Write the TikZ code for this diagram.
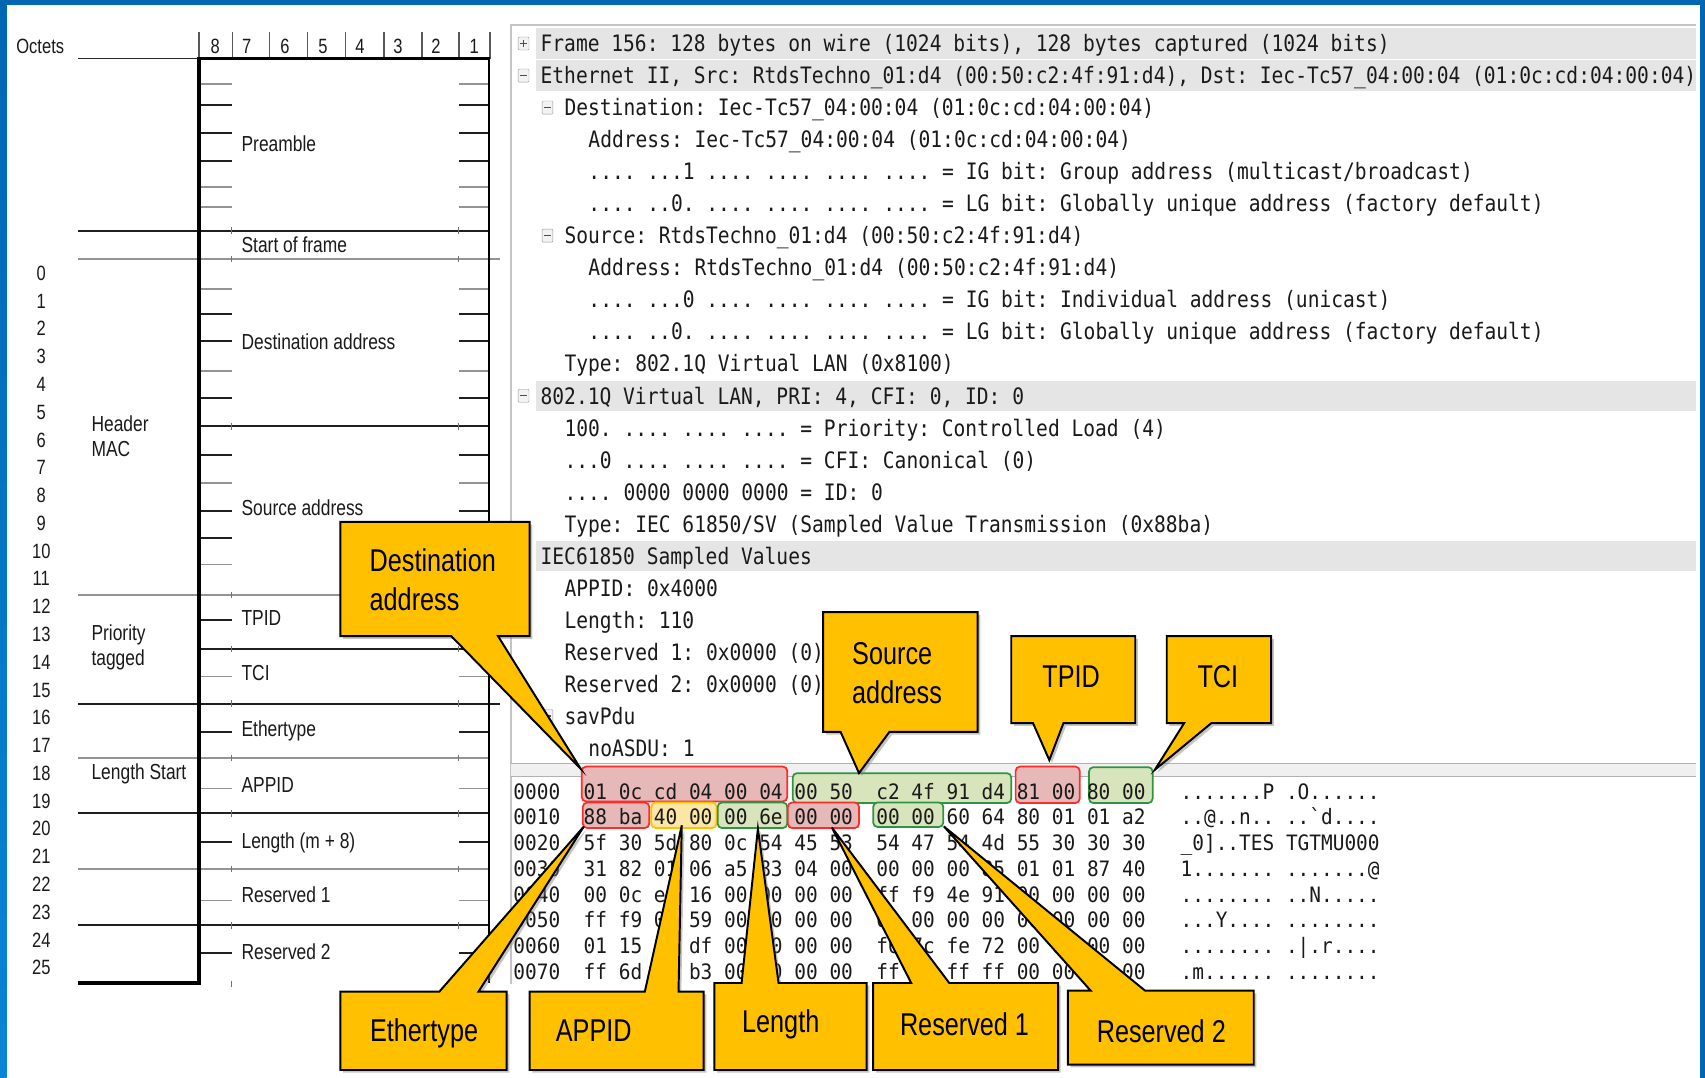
\documentclass[tikz,border=0pt]{standalone}
\usepackage{fontspec}
\setmainfont{Liberation Sans}
\newfontfamily\narf[FakeStretch=0.8]{Liberation Sans}
\newfontfamily\treef[FakeStretch=0.866,Ligatures=TeXOff]{DejaVu Sans Mono}
\newfontfamily\hexf[FakeStretch=0.917,Ligatures=TeXOff]{DejaVu Sans Mono}
\usetikzlibrary{calc}
\definecolor{fblue}{HTML}{0066B3}
\definecolor{fblue2}{HTML}{0A84D6}
\definecolor{cyel}{HTML}{FFC000}
\definecolor{rowg}{HTML}{E5E5E5}
\definecolor{pang}{HTML}{C4C4C4}
\definecolor{hred}{HTML}{FF2B2B}
\definecolor{hredf}{HTML}{E6B8B7}
\definecolor{hgrn}{HTML}{2E9444}
\definecolor{hgrnf}{HTML}{D8E4BC}
\definecolor{horg}{HTML}{FFC000}
\definecolor{horgf}{HTML}{FCE6A4}
\definecolor{txt}{HTML}{1A1A1A}
\frenchspacing
% callout with pointer at bottom: x1 y1 x2 y2 b1 b2 tip
\newcommand\cbot[7]{%
  \fill[cshadow,transform canvas={shift={(2.5,2.5)}}] (#1,#2) -- (#3,#2) -- (#3,#4) -- (#6,#4) -- (#7) -- (#5,#4) -- (#1,#4) -- cycle;
  \draw[callout] (#1,#2) -- (#3,#2) -- (#3,#4) -- (#6,#4) -- (#7) -- (#5,#4) -- (#1,#4) -- cycle;}
% callout with pointer at top
\newcommand\ctop[7]{%
  \fill[cshadow,transform canvas={shift={(2.5,2.5)}}] (#1,#2) -- (#5,#2) -- (#7) -- (#6,#2) -- (#3,#2) -- (#3,#4) -- (#1,#4) -- cycle;
  \draw[callout] (#1,#2) -- (#5,#2) -- (#7) -- (#6,#2) -- (#3,#2) -- (#3,#4) -- (#1,#4) -- cycle;}
\newcommand\trl[4]{\node[treetxt] (#1) at (#2,{47.6+29.45*#3}) {#4};}
\newcommand\hxl[3]{\node[hextxt] (#1) at (472,{735+23.66*#2}) {#3};}
\newcommand\ticon[4]{%
  \node[ticonst] (#1) at (#2,{40+29.45*#3}) {};
  \draw[black!70,line width=1.2pt] ([xshift=-3pt]#1.center) -- ([xshift=3pt]#1.center);
  \ifnum#4=1 \draw[black!70,line width=1.2pt] ([yshift=-3pt]#1.center) -- ([yshift=3pt]#1.center);\fi}
\begin{document}
\begin{tikzpicture}[x=1pt,y=-1pt,
  num/.style={font=\narf\fontsize{19}{22}\selectfont, text=txt, inner sep=0pt, anchor=base},
  tbl/.style={font=\narf\fontsize{20}{24}\selectfont, text=txt, inner sep=0pt, anchor=base west},
  dkl/.style={draw=black!88, line width=1.8pt},
  grl/.style={draw=black!42, line width=1.5pt},
  treetxt/.style={font=\treef\fontsize{20.8}{24}\selectfont, text=txt, inner sep=0pt, anchor=base west},
  hextxt/.style={font=\hexf\fontsize{19.5}{22}\selectfont, text=txt, inner sep=0pt, anchor=base west},
  ticonst/.style={draw=black!40, fill=black!5, minimum width=10pt, minimum height=12pt, inner sep=0pt, rounded corners=1pt},
  hb/.style={rounded corners=4pt, line width=1.6pt},
  callout/.style={fill=cyel, draw=black, line width=1.8pt, line join=miter},
  cshadow/.style={fill=black!50, opacity=0.45},
  ctext/.style={font=\narf\fontsize{29}{36}\selectfont, text=black, align=left, inner sep=0pt}]
\useasboundingbox (0,0) rectangle (1568,991);
\fill[white] (0,0) rectangle (1568,991);
% blue frame
\fill[fblue] (0,0) rectangle (1568,5);
\shade[top color=fblue, bottom color=fblue2] (0,0) rectangle (6,991);
\fill[fblue] (1563,0) rectangle (1568,991);

% ---------------- left octet table ----------------
\node[num] (octets) at (37,49) {Octets};
\foreach \x in {183,213.6,248,283,318,353,388,422,450.6}
  \draw[black!65, line width=1.2pt] (\x,29) -- (\x,54);
\foreach \x/\d in {198/8,227/7,262/6,297/5,331/4,366/3,401/2,436/1}
  \node[num] (hd\d) at (\x,49) {\d};
\draw[black!85, line width=1.4pt] (72,54) -- (183,54);
% row separators
\draw[dkl] (72,212) -- (451,212);
\draw[grl] (72,238) -- (460,238);
\draw[dkl] (183,392) -- (451,392);
\draw[grl] (72,547) -- (451,547);
\draw[dkl] (183,597) -- (451,597);
\draw[dkl] (72,647) -- (460,647);
\draw[grl] (72,697) -- (451,697);
\draw[dkl] (72,748) -- (451,748);
\draw[grl] (72,799) -- (451,799);
\draw[dkl] (72,851) -- (451,851);
\foreach \y in {212,238,392,547,597,647,697,748,799,851}
  {\draw[black!55, line width=1pt] (213,\y-3) -- (213,\y+3);
   \draw[black!55, line width=1pt] (422,\y-3) -- (422,\y+3);}
\draw[black!55, line width=1pt] (213,902) -- (213,908);
% octet ticks
\foreach \y in {96.5,122,148,289,314,366,418,470,495,570,673,774,876}
  {\draw[dkl] (184.5,\y) -- (213,\y); \draw[dkl] (422,\y) -- (449,\y);}
\foreach \y in {77,172,190.5,266,341,444,519,622,725,828}
  {\draw[grl] (184.5,\y) -- (213,\y); \draw[grl] (422,\y) -- (449,\y);}
% frame box
\draw[black, line width=3pt] (183,54) -- (451,54);
\draw[black, line width=3.2pt] (183,52.5) -- (183,905.5);
\draw[black, line width=2pt] (450,54) -- (450,904);
\draw[black, line width=3pt] (72,904) -- (184.6,904);
% field labels
\node[tbl] (lPre) at (222,139.2) {Preamble};
\node[tbl] (lSof) at (222,232.2) {Start of frame};
\node[tbl] (lDst) at (222,321.2) {Destination address};
\node[tbl] (lSrc) at (222,474.2) {Source address};
\node[tbl] (lTpid) at (222,575.2) {TPID};
\node[tbl] (lTci) at (222,626.2) {TCI};
\node[tbl] (lEth) at (222,677.2) {Ethertype};
\node[tbl] (lApp) at (222,729.2) {APPID};
\node[tbl] (lLen) at (222,780.2) {Length (m + 8)};
\node[tbl] (lR1) at (222,830.2) {Reserved 1};
\node[tbl] (lR2) at (222,882.2) {Reserved 2};
\node[tbl] (gHead) at (84,397.2) {Header};
\node[tbl] (gMac) at (84,420.2) {MAC};
\node[tbl] (gPri) at (84,589.2) {Priority};
\node[tbl] (gTag) at (84,612.2) {tagged};
\node[tbl] (gLen) at (84,717.2) {Length Start};
\foreach \n in {0,...,25}
  \node[num] (oc\n) at (38,{251+25.55*\n+6.8}) {\n};

% ---------------- packet details panel ----------------
\foreach \k in {0,1,11,16}
  \fill[rowg] (493,{26+29.45*\k}) rectangle (1560,{54+29.45*\k});
\draw[pang, line width=1.5pt] (470,905) -- (470,23) -- (1560,23);
\ticon{i0}{481.5}{0}{1}
\ticon{i1}{481.5}{1}{0}
\ticon{i2}{503.5}{2}{0}
\ticon{i6}{503.5}{6}{0}
\ticon{i11}{481.5}{11}{0}
\ticon{i21}{503.5}{21}{0}
\trl{t0}{497}{0}{Frame 156: 128 bytes on wire (1024 bits), 128 bytes captured (1024 bits)}
\trl{t1}{497}{1}{Ethernet II, Src: RtdsTechno\_01:d4 (00:50:c2:4f:91:d4), Dst: Iec-Tc57\_04:00:04 (01:0c:cd:04:00:04)}
\trl{t2}{519}{2}{Destination: Iec-Tc57\_04:00:04 (01:0c:cd:04:00:04)}
\trl{t3}{541}{3}{Address: Iec-Tc57\_04:00:04 (01:0c:cd:04:00:04)}
\trl{t4}{541}{4}{.... ...1 .... .... .... .... = IG bit: Group address (multicast/broadcast)}
\trl{t5}{541}{5}{.... ..0. .... .... .... .... = LG bit: Globally unique address (factory default)}
\trl{t6}{519}{6}{Source: RtdsTechno\_01:d4 (00:50:c2:4f:91:d4)}
\trl{t7}{541}{7}{Address: RtdsTechno\_01:d4 (00:50:c2:4f:91:d4)}
\trl{t8}{541}{8}{.... ...0 .... .... .... .... = IG bit: Individual address (unicast)}
\trl{t9}{541}{9}{.... ..0. .... .... .... .... = LG bit: Globally unique address (factory default)}
\trl{t10}{519}{10}{Type: 802.1Q Virtual LAN (0x8100)}
\trl{t11}{497}{11}{802.1Q Virtual LAN, PRI: 4, CFI: 0, ID: 0}
\trl{t12}{519}{12}{100. .... .... .... = Priority: Controlled Load (4)}
\trl{t13}{519}{13}{...0 .... .... .... = CFI: Canonical (0)}
\trl{t14}{519}{14}{.... 0000 0000 0000 = ID: 0}
\trl{t15}{519}{15}{Type: IEC 61850/SV (Sampled Value Transmission (0x88ba)}
\trl{t16}{497}{16}{IEC61850 Sampled Values}
\trl{t17}{519}{17}{APPID: 0x4000}
\trl{t18}{519}{18}{Length: 110}
\trl{t19}{519}{19}{Reserved 1: 0x0000 (0)}
\trl{t20}{519}{20}{Reserved 2: 0x0000 (0)}
\trl{t21}{519}{21}{savPdu}
\trl{t22}{541}{22}{noASDU: 1}

% ---------------- hex pane ----------------
\fill[black!6] (470,702) rectangle (1560,714);
\draw[black!30, line width=1.2pt] (470,702) -- (1560,702);
\draw[black!30, line width=1.2pt] (470,714) -- (1560,714);
\filldraw[hb, fill=hredf, draw=hred] (535,705) rectangle (724,737);
\filldraw[hb, fill=hgrnf, draw=hgrn] (729,711) rectangle (930,738.5);
\filldraw[hb, fill=hredf, draw=hred] (934,705) rectangle (993,738.5);
\filldraw[hb, fill=hgrnf, draw=hgrn] (1001.5,705.5) rectangle (1060,738.5);
\filldraw[hb, fill=hredf, draw=hred] (536,738) rectangle (597,761.5);
\filldraw[hb, fill=horgf, draw=horg] (599,738) rectangle (659,761.5);
\filldraw[hb, fill=hgrnf, draw=hgrn] (660,738) rectangle (724,761.5);
\filldraw[hb, fill=hredf, draw=hred] (724.5,738) rectangle (790,761.5);
\filldraw[hb, fill=hgrnf, draw=hgrn] (803,738) rectangle (867.5,760.5);
\hxl{h0}{0}{0000~~01~0c~cd~04~00~04~00~50~~c2~4f~91~d4~81~00~80~00~~~.......P~.O......}
\hxl{h1}{1}{0010~~88~ba~40~00~00~6e~00~00~~00~00~60~64~80~01~01~a2~~~..@..n..~..\char96 d....}
\hxl{h2}{2}{0020~~5f~30~5d~80~0c~54~45~53~~54~47~54~4d~55~30~30~30~~~\_0]..TES~TGTMU000}
\hxl{h3}{3}{0030~~31~82~01~06~a5~83~04~00~~00~00~00~85~01~01~87~40~~~1.......~.......@}
\hxl{h4}{4}{0040~~00~0c~e0~16~00~00~00~00~~ff~f9~4e~91~00~00~00~00~~~........~..N.....}
\hxl{h5}{5}{0050~~ff~f9~00~59~00~00~00~00~~00~00~00~00~00~00~00~00~~~...Y....~........}
\hxl{h6}{6}{0060~~01~15~00~df~00~00~00~00~~f0~7c~fe~72~00~00~00~00~~~........~.|.r....}
\hxl{h7}{7}{0070~~ff~6d~00~b3~00~00~00~00~~ff~ff~ff~ff~00~00~00~00~~~.m......~........}

% ---------------- callouts ----------------
\coordinate (tDest) at (534,707);
\coordinate (tSrc) at (790,711);
\coordinate (tTpid) at (965,699);
\coordinate (tTci) at (1062,708);
\coordinate (tEth) at (537,760);
\coordinate (tApp) at (627,759);
\coordinate (tLen) at (697,762);
\coordinate (tR1) at (765,761);
\coordinate (tR2) at (868,760);
\cbot{313}{480}{487}{585}{415}{458}{tDest}
\node[ctext] (cDest) at (398,533) {Destination\\address};
\cbot{757}{563}{899}{673}{773}{818}{tSrc}
\node[ctext] (cSrc) at (825,619) {Source\\address};
\cbot{930}{585}{1044}{665}{950}{978}{tTpid}
\node[ctext] (cTpid) at (985,622) {TPID};
\cbot{1073}{585}{1169}{665}{1089}{1114}{tTci}
\node[ctext] (cTci) at (1120,622) {TCI};
\ctop{313}{912}{466}{984}{404}{440}{tEth}
\node[ctext] (cEth) at (390,950) {Ethertype};
\ctop{487}{912}{647}{984}{593}{624}{tApp}
\node[ctext] (cApp) at (546,948) {APPID};
\ctop{657}{904}{797}{984}{682}{716}{tLen}
\node[ctext] (cLen) at (718,942) {Length};
\ctop{803}{904}{973}{984}{838}{873}{tR1}
\node[ctext] (cR1) at (887,942) {Reserved 1};
\ctop{982}{911}{1153}{979}{1003}{1053}{tR2}
\node[ctext] (cR2) at (1068,948) {Reserved 2};
\end{tikzpicture}
\end{document}
